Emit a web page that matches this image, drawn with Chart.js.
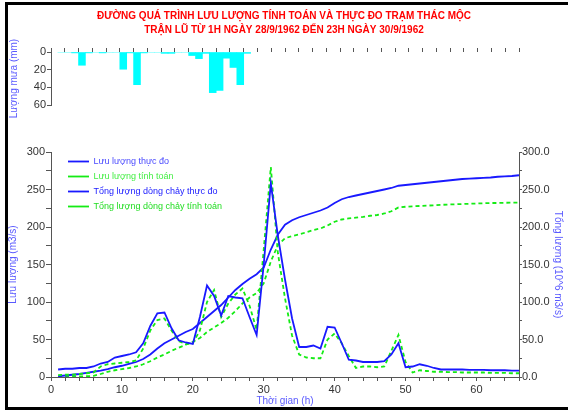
<!DOCTYPE html>
<html>
<head>
<meta charset="utf-8">
<script src="https://cdn.jsdelivr.net/npm/chart.js@4.4.1/dist/chart.umd.min.js"></script>
<style>
  body { margin: 0; background: #fff; }
  #frame { position: absolute; left: 5px; top: 2px; width: 620px; height: 402px; border: 3px solid #000; border-right: none; }
  #rainBox { position: absolute; left: 0; top: 0; width: 568px; height: 120px; }
  #mainBox { position: absolute; left: 0; top: 120px; width: 568px; height: 292px; }
</style>
</head>
<body>
<div id="frame"></div>
<div id="rainBox"><canvas id="rainChart"></canvas></div>
<div id="mainBox"><canvas id="mainChart"></canvas></div>
<script>
// thoi gian (gio)
const hours = [1,2,3,4,5,6,7,8,9,10,11,12,13,14,15,16,17,18,19,20,21,22,23,24,25,26,27,28,29,30,
  31,32,33,34,35,36,37,38,39,40,41,42,43,44,45,46,47,48,49,50,51,52,53,54,55,56,57,58,59,60,
  61,62,63,64,65,66];

// luu luong thuc do (m3/s)
const qMeasured = [10,11,11,12,12,14,18,20,26,28, 30,33,45,68,85,86,65,49,46,44,
  80,122,108,82,108,106,105,80,56,150, 258,188,130,78,40,40,42,38,67,66,
  45,23,22,20,20,20,21,30,45,13, 14,17,15,12,10,10,10,10,9.5,9.5,
  9.5,9,9,9,8.5,8.5];

// luu luong tinh toan (m3/s)
const qComputed = [2.5,3,3,4,5,6,14,17,18,19, 20,22,38,62,76,78,62,48,44,45,
  62,100,116,80,98,110,118,95,63,170, 280,165,105,55,30,26,25,25,50,58,
  45,28,12,14,14,13,14,35,56,20, 6,9,8,7,7,6.5,6.5,6,6,6,
  6,5.5,5.5,5.5,5,5];

// tong luong dong chay thuc do (10^6 m3)
const vMeasured = [1,2,3,4,5.5,7,8.5,10.5,13,15, 17.5,20,24,30,38,45,50,55,60,64,
  72,80,88,96,106,116,124,131,137,146, 170,190,203,209,213,216,219,222,226,232,
  237,240,242,244,246,248,250,252,255,256, 257,258,259,260,261,262,263,264,264.5,265,
  265.5,266,267,267.5,268,269];

// tong luong dong chay tinh toan (10^6 m3)
const vComputed = [0,0.3,0.5,0.8,1,1.5,4,7,9,10.5, 12,14,17,21,26,30,35,39,43,47,
  52,60,66,72,79,88,98,106,112,125, 154,176,185,188,190,193,196,198,202,207,
  210,211.5,212.5,213.5,215,216,218,221,226,227, 227.5,228,228.5,229,229.5,230,230.3,230.6,231,231.3,
  231.6,232,232,232.3,232.5,232.5];

// luong mua theo gio (mm)
const rainHours = [1,2,3,4,5,6,7,8,9,10,11,12,13,14,15,16,17,18,19,20,21,22,23,24,25,26,27,28];
const rain = [0,0,1,15,1,0,1,0,0,19.5,1,37,1,0,0,1.5,1.5,0,0,4,7.5,1.5,46,43.5,7,17.5,37,1.5];

const titleLines = [
  'ĐƯỜNG QUÁ TRÌNH LƯU LƯỢNG TÍNH TOÁN VÀ THỰC ĐO TRẠM THÁC MỘC',
  'TRẬN LŨ TỪ 1H NGÀY 28/9/1962 ĐẾN 23H NGÀY 30/9/1962'
];

const blue = 'rgb(25,25,255)';
const green = 'rgb(20,235,20)';
const axisColor = '#555';
const labelColor = '#333';
const titleColor = '#5a5aff';

Chart.defaults.font.family = '"Liberation Sans", Arial, sans-serif';
Chart.defaults.font.size = 11;
Chart.defaults.color = labelColor;
Chart.defaults.animation = false;

// bieu do mua
new Chart(document.getElementById('rainChart'), {
  type: 'bar',
  data: {
    datasets: [{
      data: rainHours.map((h, i) => ({ x: h - 0.5, y: rain[i] })),
      backgroundColor: '#00ffff',
      borderWidth: 0,
      barPercentage: 1,
      categoryPercentage: 1
    }]
  },
  options: {
    responsive: true,
    maintainAspectRatio: false,
    layout: { padding: { left: 0, right: 0, top: 0, bottom: 15 } },
    plugins: {
      legend: { display: false },
      tooltip: { enabled: false },
      title: {
        display: true,
        text: titleLines,
        color: '#ff0000',
        font: { size: 10, weight: 'bold', lineHeight: '14px' },
        padding: { top: 9, bottom: 11 }
      }
    },
    scales: {
      x: {
        type: 'linear',
        position: 'top',
        min: 0,
        max: 66,
        afterFit: s => { s.height = 4; },
        ticks: { display: false, stepSize: 2, autoSkip: false },
        grid: { drawOnChartArea: false, tickLength: 4, color: axisColor },
        border: { display: false }
      },
      y: {
        reverse: true,
        min: 0,
        max: 60,
        afterFit: s => { s.width = 51; },
        ticks: { stepSize: 10, padding: 1, callback: v => v % 20 === 0 ? v : '' },
        grid: { drawOnChartArea: false, tickLength: 4, color: axisColor },
        border: { color: axisColor },
        title: { display: true, text: 'Lượng mưa (mm)', color: titleColor, font: { size: 10 }, padding: 8 }
      },
      // truc phai an, chi de giu cho trung voi bieu do duoi
      yRight: {
        position: 'right',
        afterFit: s => { s.width = 49; },
        ticks: { display: false },
        grid: { display: false },
        border: { display: false }
      }
    }
  }
});

// dua chu giai vao trong vung ve
const legendInside = {
  id: 'legendInside',
  afterLayout(chart) {
    const a = chart.chartArea;
    chart.legend.left = a.left + 11;
    chart.legend.top = a.top - 1;
  }
};

const legendColors = ['#4a4aff', '#44ee44', '#2020ff', '#22dd22'];

new Chart(document.getElementById('mainChart'), {
  type: 'line',
  data: {
    datasets: [
      { label: 'Lưu lượng thực đo', data: hours.map((h, i) => ({ x: h, y: qMeasured[i] })),
        borderColor: blue, borderWidth: 1.8, yAxisID: 'y' },
      { label: 'Lưu lượng tính toán', data: hours.map((h, i) => ({ x: h, y: qComputed[i] })),
        borderColor: green, borderWidth: 1.8, borderDash: [4, 3], yAxisID: 'y' },
      { label: 'Tổng lượng dòng chảy thực đo', data: hours.map((h, i) => ({ x: h, y: vMeasured[i] })),
        borderColor: blue, borderWidth: 1.8, yAxisID: 'y2' },
      { label: 'Tổng lượng dòng chảy tính toán', data: hours.map((h, i) => ({ x: h, y: vComputed[i] })),
        borderColor: green, borderWidth: 1.8, borderDash: [4, 3], yAxisID: 'y2' }
    ]
  },
  options: {
    responsive: true,
    maintainAspectRatio: false,
    elements: { point: { radius: 0 }, line: { tension: 0 } },
    layout: { padding: { left: 0, right: 0, top: 32, bottom: 5 } },
    plugins: {
      tooltip: { enabled: false },
      legend: {
        position: 'chartArea',
        align: 'start',
        labels: {
          usePointStyle: true,
          pointStyle: 'line',
          pointStyleWidth: 21,
          padding: 6,
          font: { size: 9 },
          generateLabels(chart) {
            const items = Chart.defaults.plugins.legend.labels.generateLabels(chart);
            items.forEach(it => { it.fontColor = legendColors[it.datasetIndex]; });
            return items;
          }
        }
      }
    },
    scales: {
      x: {
        type: 'linear',
        min: 0,
        max: 66,
        afterFit: s => { s.height = 30; },
        ticks: { stepSize: 2, autoSkip: false, maxRotation: 0, padding: 2,
          callback: v => v % 10 === 0 ? v : '' },
        grid: { drawOnChartArea: false, tickLength: 4, color: axisColor },
        border: { color: axisColor },
        title: { display: true, text: 'Thời gian (h)', color: titleColor, font: { size: 10 }, padding: 0 }
      },
      y: {
        position: 'left',
        min: 0,
        max: 300,
        afterFit: s => { s.width = 51; },
        ticks: { stepSize: 25, padding: 1, callback: v => v % 50 === 0 ? v : '' },
        grid: { drawOnChartArea: false, tickLength: 5, color: axisColor },
        border: { color: axisColor },
        title: { display: true, text: 'Lưu lượng (m3/s)', color: titleColor, font: { size: 10 }, padding: 7 }
      },
      y2: {
        position: 'right',
        min: 0,
        max: 300,
        afterFit: s => { s.width = 49; },
        ticks: { stepSize: 25, padding: 0, callback: v => v % 50 === 0 ? v.toFixed(1) : '' },
        grid: { drawOnChartArea: false, tickLength: 3, color: axisColor },
        border: { color: axisColor },
        title: { display: true, text: 'Tổng lượng (10^6 m3/s)', color: titleColor, font: { size: 10 }, padding: 4 }
      }
    }
  },
  plugins: [legendInside]
});
</script>
</body>
</html>
